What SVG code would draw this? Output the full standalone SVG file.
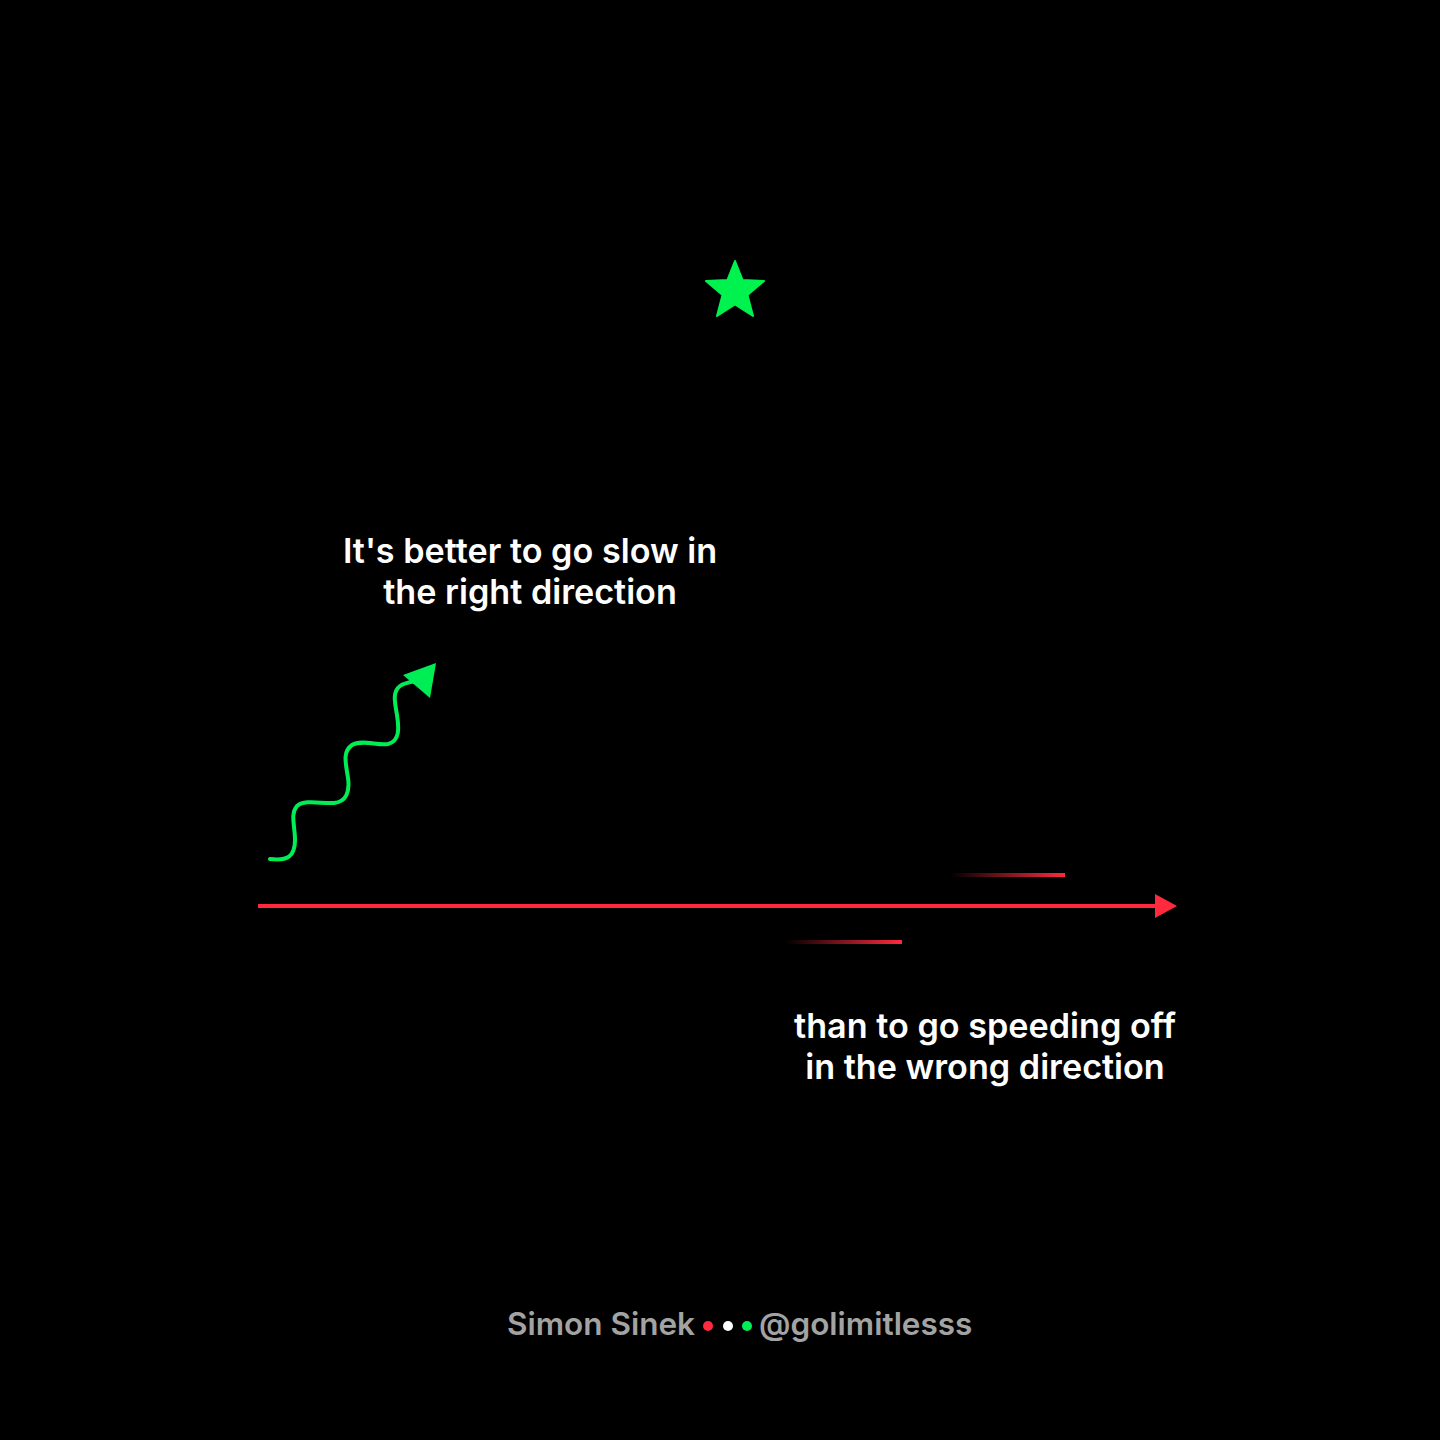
<svg xmlns="http://www.w3.org/2000/svg" width="1440" height="1440" viewBox="0 0 1440 1440">
<defs>
<style>
.t{font-family:Inter,"Noto Sans","Liberation Sans",sans-serif;font-weight:600;fill:#ffffff;font-size:34.2px;text-anchor:middle}
.f{font-family:Inter,"Noto Sans","Liberation Sans",sans-serif;font-weight:600;fill:#a3a3a3;font-size:31.5px}
.red{stroke:#ff2a3d;stroke-width:4;fill:none}
.grn{stroke:#00ee55;stroke-width:4;fill:none;stroke-linecap:round}
</style>
<linearGradient id="fade1" x1="950" y1="0" x2="1065" y2="0" gradientUnits="userSpaceOnUse">
<stop offset="0" stop-color="#ff2a3d" stop-opacity="0"/>
<stop offset="1" stop-color="#ff2a3d" stop-opacity="1"/>
</linearGradient>
<linearGradient id="fade2" x1="785" y1="0" x2="902" y2="0" gradientUnits="userSpaceOnUse">
<stop offset="0" stop-color="#ff2a3d" stop-opacity="0"/>
<stop offset="1" stop-color="#ff2a3d" stop-opacity="1"/>
</linearGradient>
</defs>
<rect width="1440" height="1440" fill="#000000"/>
<g id="star">
<polygon fill="#00f24e" stroke="#00f24e" stroke-width="2" stroke-linejoin="round" points="735,261 742.6,280 764,281 747.5,295 753,316 735,304.5 717,316 722.5,295 706,281 727.4,280"/>
</g>
<g id="connectors">
<path class="grn" d="M270,859 C287,861 295,857 295,840 C295,826 290,814 297,806 C305,799 322,804 334,803 C346,802 350,792 348,778 C346,764 342,752 352,745 C362,739 378,746 388,744 C400,741 399,728 397,715 C395,703 392,692 400,686 C404,683 410,682 416,681"/>
<polygon fill="#00ee55" points="436,663 403,675 430,698"/>
<line class="red" x1="258" y1="906" x2="1158" y2="906"/>
<polygon fill="#ff2a3d" points="1177,906 1155,894 1155,918"/>
<line x1="950" y1="875" x2="1065" y2="875" stroke="url(#fade1)" stroke-width="4"/>
<line x1="785" y1="942" x2="902" y2="942" stroke="url(#fade2)" stroke-width="4"/>
</g>
<g id="text-top">
<text class="t" x="530" y="563">It's better to go slow in</text>
<text class="t" x="530" y="604">the right direction</text>
</g>
<g id="text-bottom">
<text class="t" x="985" y="1038">than to go speeding off</text>
<text class="t" x="985" y="1079">in the wrong direction</text>
</g>
<g id="footer">
<text class="f" x="695" y="1335" text-anchor="end">Simon Sinek</text>
<circle cx="708" cy="1326" r="5" fill="#ff2a3d"/>
<circle cx="728" cy="1326" r="5" fill="#ffffff"/>
<circle cx="747" cy="1326" r="5" fill="#00ee55"/>
<text class="f" x="759" y="1335">@golimitlesss</text>
</g>
</svg>
